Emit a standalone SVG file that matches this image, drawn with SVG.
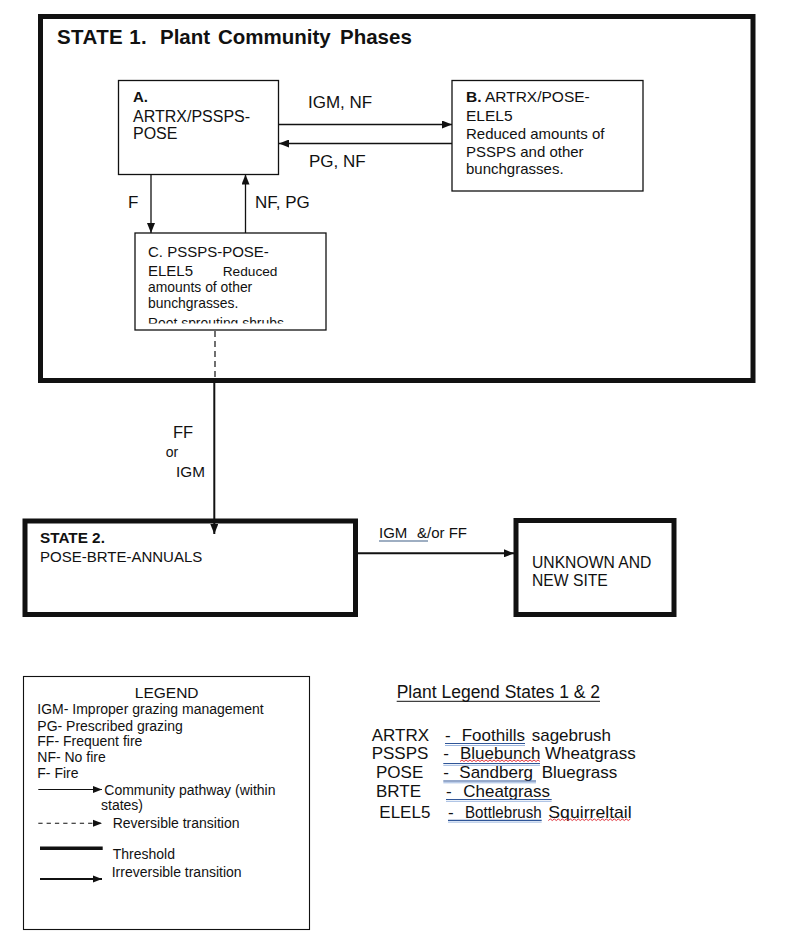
<svg xmlns="http://www.w3.org/2000/svg" width="800" height="943" viewBox="0 0 800 943">
<style>
text{font-family:"Liberation Sans",Arial,sans-serif;fill:#111}
.b{font-weight:bold}
.box{fill:#fff;stroke:#111;stroke-width:1.3}
.state{fill:none;stroke:#111;stroke-width:5}
.thin{stroke:#111;stroke-width:1.3;fill:none}
.thick{stroke:#111;stroke-width:2;fill:none}
.ul{stroke:#2f5597;stroke-width:1.2}
.ul2{stroke:#9db7e0;stroke-width:1}
.sq{stroke:#e0303a;stroke-width:1;fill:none}
</style>
<defs>
<marker id="ah" markerUnits="userSpaceOnUse" markerWidth="10" markerHeight="8" refX="10" refY="4" orient="auto">
<path d="M0,0 L10,4 L0,8 z" fill="#111"/>
</marker>
<marker id="ahs" markerUnits="userSpaceOnUse" markerWidth="9" markerHeight="8" refX="9" refY="4" orient="auto">
<path d="M0,0.5 L9,4 L0,7.5 z" fill="#111"/>
</marker>
<clipPath id="clipC"><rect x="135" y="233" width="191" height="90.5"/></clipPath>
</defs>
<rect width="800" height="943" fill="#fff"/>

<g id="state1">
<rect class="state" x="40.5" y="16.5" width="712.5" height="364"/>
<text class="b" y="44" font-size="20.5"><tspan x="57" textLength="89.7" lengthAdjust="spacing">STATE 1.</tspan><tspan x="160">Plant</tspan><tspan x="218">Community</tspan><tspan x="340">Phases</tspan></text>
</g>

<g id="phaseA">
<rect class="box" x="118.5" y="80.5" width="160" height="94"/>
<text x="133" y="102" font-size="15" class="b">A.</text>
<text x="133" y="122.3" font-size="16">ARTRX/PSSPS-</text>
<text x="133" y="139" font-size="16">POSE</text>
</g>

<g id="phaseB">
<rect class="box" x="452" y="80.5" width="191" height="110.5"/>
<text x="466" y="102" font-size="15.5"><tspan class="b">B.</tspan> ARTRX/POSE-</text>
<text x="466" y="121" font-size="15.5">ELEL5</text>
<text x="466" y="139" font-size="15">Reduced amounts of</text>
<text x="466" y="157" font-size="15">PSSPS and other</text>
<text x="466" y="174" font-size="15">bunchgrasses.</text>
</g>

<g id="phaseC">
<rect class="box" x="135" y="233" width="191" height="97"/>
<g clip-path="url(#clipC)">
<text x="148" y="257.3" font-size="15">C. PSSPS-POSE-</text>
<text x="148" y="276" font-size="15">ELEL5</text>
<text x="222.7" y="275.7" font-size="13.7">Reduced</text>
<text x="148" y="292.3" font-size="13.9">amounts of other</text>
<text x="148" y="307.7" font-size="13.9">bunchgrasses.</text>
<text x="148" y="327.5" font-size="13.9">Root sprouting shrubs</text>
</g>
</g>

<g id="state2">
<rect class="state" x="25" y="521" width="330.5" height="93.5"/>
<text class="b" x="40" y="543" font-size="15.3">STATE 2.</text>
<text x="40" y="561.7" font-size="15">POSE-BRTE-ANNUALS</text>
</g>

<g id="unknown">
<rect class="state" x="516" y="520.5" width="158" height="94"/>
<text x="532" y="568.3" font-size="15.7">UNKNOWN AND</text>
<text x="532" y="586" font-size="15.7">NEW SITE</text>
</g>

<g id="connectors">
<line class="thin" x1="279" y1="124.5" x2="452" y2="124.5" marker-end="url(#ah)"/>
<line class="thin" x1="452" y1="143.5" x2="279" y2="143.5" marker-end="url(#ah)"/>
<line class="thin" x1="151" y1="174.5" x2="151" y2="233" marker-end="url(#ah)"/>
<line class="thin" x1="245.5" y1="233" x2="245.5" y2="174.5" marker-end="url(#ah)"/>
<line stroke="#111" stroke-width="1.2" stroke-dasharray="6,4" x1="215" y1="331" x2="215" y2="378"/>
<line class="thick" x1="214.3" y1="378" x2="214.3" y2="534" marker-end="url(#ah)"/>
<line class="thick" x1="358" y1="553.3" x2="514" y2="553.3" marker-end="url(#ah)"/>
<text x="308" y="108" font-size="17">IGM, NF</text>
<text x="309" y="167" font-size="17">PG, NF</text>
<text x="128" y="207.7" font-size="17">F</text>
<text x="255" y="207.7" font-size="17">NF, PG</text>
<text x="173" y="438" font-size="16.5">FF</text>
<text x="165.7" y="457" font-size="14">or</text>
<text x="176" y="476.7" font-size="15.3">IGM</text>
<text x="379" y="538" font-size="15"><tspan>IGM</tspan><tspan x="417">&amp;/or FF</tspan></text>
<line stroke="#3e5f86" stroke-width="1.1" x1="379" y1="541" x2="428" y2="541"/>
</g>

<g id="legend">
<rect fill="#fff" stroke="#111" stroke-width="1.1" x="23.5" y="676.5" width="286" height="253"/>
<text x="166.7" y="698.3" font-size="15.5" text-anchor="middle">LEGEND</text>
<text x="37.3" y="714.3" font-size="14">IGM- Improper grazing management</text>
<text x="37.3" y="730.7" font-size="14">PG- Prescribed grazing</text>
<text x="37.3" y="746.3" font-size="14">FF- Frequent fire</text>
<text x="37.3" y="762" font-size="14">NF- No fire</text>
<text x="37.3" y="777.5" font-size="14">F- Fire</text>
<line stroke="#111" stroke-width="1.1" x1="38.3" y1="789.5" x2="102" y2="789.5" marker-end="url(#ahs)"/>
<text x="104.3" y="795" font-size="14">Community pathway (within</text>
<text x="101" y="810" font-size="14">states)</text>
<line stroke="#111" stroke-width="1.1" stroke-dasharray="4.3,4" x1="38.3" y1="823.3" x2="102" y2="823.3" marker-end="url(#ahs)"/>
<text x="112.7" y="827.7" font-size="14">Reversible transition</text>
<line stroke="#111" stroke-width="3.5" x1="40" y1="848.3" x2="102.7" y2="848.3"/>
<text x="112.7" y="859" font-size="14">Threshold</text>
<line class="thick" x1="40" y1="879" x2="102" y2="879" marker-end="url(#ahs)"/>
<text x="111.7" y="876.7" font-size="14">Irreversible transition</text>
</g>

<g id="plant-legend">
<text x="396.7" y="698.3" font-size="17.5">Plant Legend States 1 &amp; 2</text>
<line stroke="#111" stroke-width="1" x1="396.7" y1="701.3" x2="600" y2="701.3"/>

<text x="371.7" y="740.5" font-size="17">ARTRX</text>
<text x="445" y="740.5" font-size="17">-</text>
<text x="461.7" y="740.5" font-size="17">Foothills</text>
<text x="531.7" y="740.5" font-size="17">sagebrush</text>
<line class="ul" x1="445" y1="743.5" x2="525" y2="743.5"/>
<line class="ul2" x1="445" y1="745.5" x2="525" y2="745.5"/>

<text x="371.7" y="759" font-size="17">PSSPS</text>
<text x="443.3" y="759" font-size="17">-</text>
<text x="460" y="759" font-size="17">Bluebunch</text>
<text x="545" y="759" font-size="17">Wheatgrass</text>
<path class="sq" d="M460,761.5 l2,-1.5 l2,1.5 l2,-1.5 l2,1.5 l2,-1.5 l2,1.5 l2,-1.5 l2,1.5 l2,-1.5 l2,1.5 l2,-1.5 l2,1.5 l2,-1.5 l2,1.5 l2,-1.5 l2,1.5 l2,-1.5 l2,1.5 l2,-1.5 l2,1.5 l2,-1.5 l2,1.5 l2,-1.5 l2,1.5 l2,-1.5 l2,1.5 l2,-1.5 l2,1.5 l2,-1.5 l2,1.5 l2,-1.5 l2,1.5 l2,-1.5 l2,1.5 l2,-1.5 l2,1.5 l2,-1.5 l2,1.5 l2,-1.5 l2,1.5"/>
<line class="ul" x1="443.3" y1="763.5" x2="540" y2="763.5"/>
<line class="ul2" x1="443.3" y1="765.3" x2="540" y2="765.3"/>

<text x="376" y="777.5" font-size="17">POSE</text>
<text x="443.3" y="777.5" font-size="17">-</text>
<text x="459.3" y="777.5" font-size="17">Sandberg</text>
<text x="541.7" y="777.5" font-size="17">Bluegrass</text>
<line class="ul" x1="443.3" y1="781" x2="536" y2="781"/>
<line class="ul2" x1="443.3" y1="782.8" x2="536" y2="782.8"/>

<text x="376" y="796.5" font-size="17">BRTE</text>
<text x="446" y="796.5" font-size="17">-</text>
<text x="463.3" y="796.5" font-size="17" textLength="86.7" lengthAdjust="spacingAndGlyphs">Cheatgrass</text>
<line class="ul" x1="446" y1="799.5" x2="551.7" y2="799.5"/>
<line class="ul2" x1="446" y1="801.3" x2="551.7" y2="801.3"/>

<text x="379.3" y="817.5" font-size="17">ELEL5</text>
<text x="448" y="817.5" font-size="17">-</text>
<text x="465" y="817.5" font-size="17" textLength="76.7" lengthAdjust="spacingAndGlyphs">Bottlebrush</text>
<text x="548.3" y="817.5" font-size="17" textLength="83.4" lengthAdjust="spacingAndGlyphs">Squirreltail</text>
<line class="ul" x1="448" y1="820.3" x2="541.7" y2="820.3"/>
<line class="ul2" x1="448" y1="822.1" x2="541.7" y2="822.1"/>
<path class="sq" d="M548.3,820.5 l2,-1.5 l2,1.5 l2,-1.5 l2,1.5 l2,-1.5 l2,1.5 l2,-1.5 l2,1.5 l2,-1.5 l2,1.5 l2,-1.5 l2,1.5 l2,-1.5 l2,1.5 l2,-1.5 l2,1.5 l2,-1.5 l2,1.5 l2,-1.5 l2,1.5 l2,-1.5 l2,1.5 l2,-1.5 l2,1.5 l2,-1.5 l2,1.5 l2,-1.5 l2,1.5 l2,-1.5 l2,1.5 l2,-1.5 l2,1.5 l2,-1.5 l2,1.5 l2,-1.5 l2,1.5 l2,-1.5 l2,1.5 l2,-1.5 l2,1.5 l2,-1.5"/>
</g>
</svg>
